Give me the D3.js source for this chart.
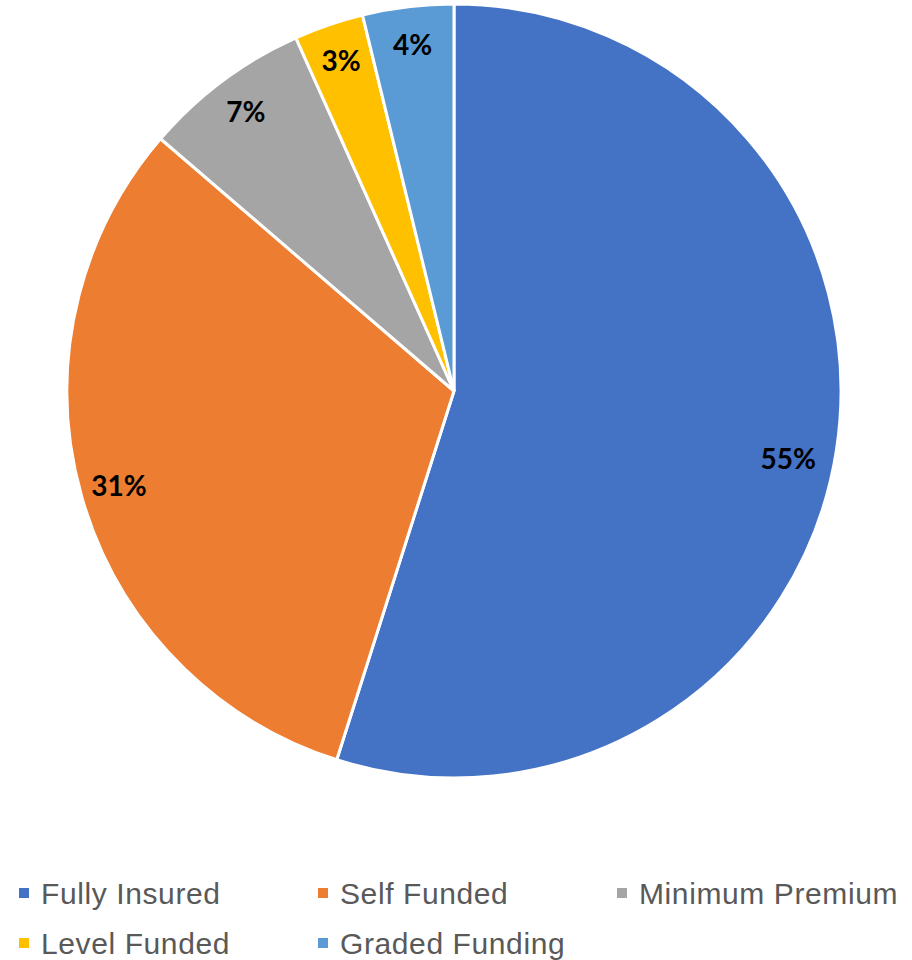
<!DOCTYPE html>
<html>
<head>
<meta charset="utf-8">
<script src="https://cdn.jsdelivr.net/npm/d3@7"></script>
<style>
  body { margin: 0; background: #fff; }
</style>
</head>
<body>
<div id="chart"></div>
<script>
var categories = ["Fully Insured", "Self Funded", "Minimum Premium", "Level Funded", "Graded Funding"];
var shares = [54.9, 31.4, 7.0, 2.9, 3.8];
var labels = ["55%", "31%", "7%", "3%", "4%"];
var colors = ["#4472C4", "#ED7D31", "#A5A5A5", "#FFC000", "#5B9BD5"];

var width = 912, height = 960;
var cx = 454, cy = 391, radius = 387;

var svg = d3.select("#chart").append("svg")
    .attr("width", width)
    .attr("height", height);

var data = categories.map(function(c, i) {
  return {name: c, value: shares[i], label: labels[i], color: colors[i]};
});

var pie = d3.pie()
    .sort(null)
    .value(function(d) { return d.value; });

var arc = d3.arc()
    .innerRadius(0)
    .outerRadius(radius);

var labelArc = d3.arc()
    .innerRadius(radius * 0.9)
    .outerRadius(radius * 0.9);

var g = svg.append("g")
    .attr("transform", "translate(" + cx + "," + cy + ")");

var arcs = pie(data);

g.selectAll(".slice")
    .data(arcs)
    .enter()
    .append("path")
    .attr("class", "slice")
    .attr("d", arc)
    .style("fill", function(d) { return d.data.color; })
    .style("stroke", "#fff")
    .style("stroke-width", 3);

// big slice label sits a bit lower/inward in the original (best fit)
g.selectAll(".lbl")
    .data(arcs)
    .enter()
    .append("text")
    .attr("class", "lbl")
    .attr("transform", function(d, i) {
      var c = labelArc.centroid(d);
      if (i === 0) { c = [c[0] - 10, c[1] + 15]; }
      return "translate(" + c + ")";
    })
    .attr("dy", "0.35em")
    .style("text-anchor", "middle")
    .style("font-family", "Lato, 'Open Sans', sans-serif")
    .style("font-weight", "bold")
    .style("font-size", "28px")
    .style("fill", "#000")
    .text(function(d) { return d.data.label; });

// legend, 3 per row
var legend = svg.append("g").attr("class", "legend");
var colX = d3.scalePoint().domain([0, 1, 2]).range([19, 617]);
var rowY = d3.scalePoint().domain([0, 1]).range([893, 943]);

var items = legend.selectAll(".item")
    .data(data)
    .enter()
    .append("g")
    .attr("class", "item")
    .attr("transform", function(d, i) {
      return "translate(" + colX(i % 3) + "," + rowY(Math.floor(i / 3)) + ")";
    });

items.append("rect")
    .attr("x", 0)
    .attr("y", -5)
    .attr("width", 10)
    .attr("height", 10)
    .style("fill", function(d) { return d.color; });

items.append("text")
    .attr("x", 22)
    .attr("dy", "0.36em")
    .style("font-family", "'Liberation Sans', Arial, sans-serif")
    .style("font-size", "30px")
    .style("letter-spacing", "0.6px")
    .style("fill", "#595959")
    .text(function(d) { return d.name; });
</script>
</body>
</html>
